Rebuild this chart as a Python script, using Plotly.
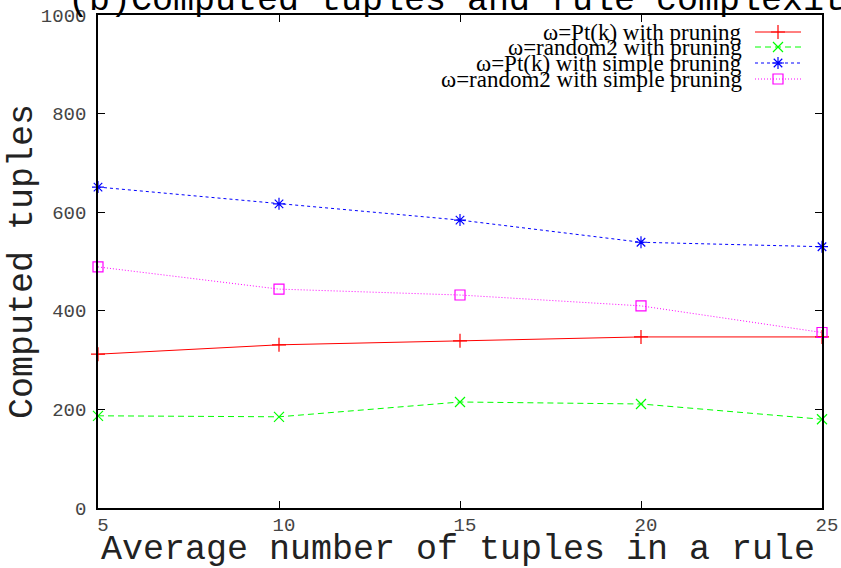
import plotly.graph_objects as go

# ---- data ----
x_vals = [5, 10, 15, 20, 25]
pt_pruning = [312, 331, 339, 347, 347]
rnd_pruning = [187, 185, 215, 211, 180]
pt_simple = [651, 617, 584, 539, 530]
rnd_simple = [489, 444, 432, 410, 356]
series_names = [
    "ω=Pt(k) with pruning",
    "ω=random2 with pruning",
    "ω=Pt(k) with simple pruning",
    "ω=random2 with simple pruning",
]
x_ticks = [5, 10, 15, 20, 25]
y_ticks = [0, 200, 400, 600, 800, 1000]
title_text = "(b)Computed tuples and rule complexity"
x_title = "Average number of tuples in a rule"
y_title = "Computed tuples"

# ---- styles ----
series_values = [pt_pruning, rnd_pruning, pt_simple, rnd_simple]
colors = ["#ff0000", "#00ff00", "#0000ff", "#ff00ff"]
dashes = ["solid", "6px,4px", "3px,3px", "1px,2px"]
symbols = ["cross-thin-open", "x-thin-open", "asterisk-open", "square-open"]
msizes = [10, 10, 10, 10]

W, H = 841, 568
ML, MR, MT, MB = 98, 19, 15, 60
PW, PH = W - ML - MR, H - MT - MB

mono = "Liberation Mono"
serif = "Liberation Serif"


def px_x(p):
    """pixel x in the page -> paper x"""
    return (p - ML) / PW


def px_y(p):
    """pixel y in the page -> paper y"""
    return (H - MB - p) / PH


fig = go.Figure()
for name, vals, c, d, s, ms in zip(series_names, series_values, colors, dashes, symbols, msizes):
    fig.add_trace(go.Scatter(
        x=x_vals, y=vals, mode="lines+markers", name=name,
        line=dict(color=c, width=1, dash=d),
        marker=dict(symbol=s, size=ms, color=c, line=dict(color=c, width=1.2)),
        cliponaxis=False, showlegend=False,
    ))

# ---- custom legend (text on the left, sample on the right, like gnuplot) ----
legend_rows = [17, 32, 48, 64]      # pixel offsets from plot top
sample_x0, sample_x1 = 657, 703     # pixel offsets from plot left
text_right = 646
for name, c, d, s, ms, ry in zip(series_names, colors, dashes, symbols, msizes, legend_rows):
    fig.add_trace(go.Scatter(
        x=[sample_x0, sample_x1], y=[ry, ry], mode="lines",
        line=dict(color=c, width=1, dash=d), xaxis="x2", yaxis="y2",
        showlegend=False, hoverinfo="skip", cliponaxis=False,
    ))
    fig.add_trace(go.Scatter(
        x=[(sample_x0 + sample_x1) / 2], y=[ry], mode="markers",
        marker=dict(symbol=s, size=ms, color=c, line=dict(color=c, width=1.2)),
        xaxis="x2", yaxis="y2", showlegend=False, hoverinfo="skip", cliponaxis=False,
    ))
    fig.add_annotation(
        x=text_right, y=ry, xref="x2", yref="y2", text=name, showarrow=False,
        xanchor="right", yanchor="middle",
        font=dict(family=serif, size=23, color="#000000"),
    )

# ---- title (partly cut off at the top, as in the reference) ----
fig.update_layout(title=dict(
    text=title_text, xref="container", yref="container",
    x=68 / W, xanchor="left", y=1 - 10 / H, yanchor="bottom",
    pad=dict(t=0, b=0, l=0, r=0),
    font=dict(family=mono, size=35, color="#000000"),
))

# ---- axis titles ----
fig.add_annotation(
    x=px_x(458), y=px_y(550), xref="paper", yref="paper", text=x_title,
    showarrow=False, xanchor="center", yanchor="middle",
    font=dict(family=mono, size=35, color="#222222"),
)
fig.add_annotation(
    x=px_x(23), y=px_y(262), xref="paper", yref="paper", text=y_title,
    showarrow=False, xanchor="center", yanchor="middle", textangle=-90,
    font=dict(family=mono, size=35, color="#222222"),
)

axis_common = dict(
    showgrid=False, zeroline=False, showline=True, linecolor="#000000", linewidth=1.5,
    mirror="ticks", ticks="inside", ticklen=7, tickcolor="#000000", tickwidth=1,
    automargin=False,
)

fig.update_layout(
    width=W, height=H,
    margin=dict(l=ML, r=MR, t=MT, b=MB, pad=0),
    paper_bgcolor="#ffffff", plot_bgcolor="#ffffff",
    showlegend=False,
    xaxis=dict(
        range=[5, 25], tickvals=x_ticks, ticktext=[str(v) for v in x_ticks],
        tickfont=dict(family=mono, size=19, color="#444444"),
        ticklabelstandoff=-2, ticklabelshift=5,
        **axis_common,
    ),
    yaxis=dict(
        range=[0, 1000], tickvals=y_ticks, ticktext=[str(v) for v in y_ticks],
        tickfont=dict(family=mono, size=19, color="#444444"),
        ticklabelstandoff=6,
        **axis_common,
    ),
    xaxis2=dict(overlaying="x", range=[0, PW], visible=False, domain=[0, 1]),
    yaxis2=dict(overlaying="y", range=[PH, 0], visible=False, domain=[0, 1]),
)

fig.write_html("out.html")
